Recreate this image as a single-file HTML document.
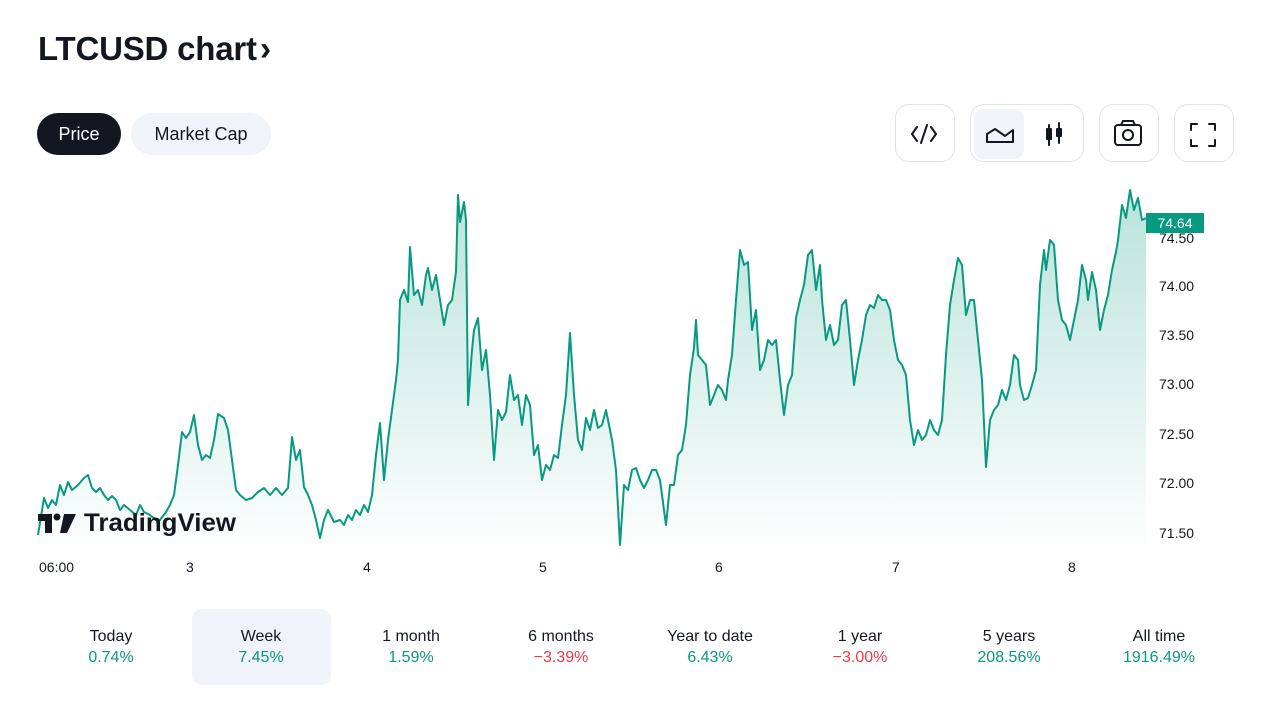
<!DOCTYPE html>
<html><head><meta charset="utf-8"><style>
body{margin:0;width:1280px;height:720px;background:#fff;font-family:"Liberation Sans",sans-serif;color:#131722;position:relative;overflow:hidden}
.a{position:absolute}
h1{position:absolute;left:38px;top:30px;margin:0;font-size:33px;font-weight:bold;letter-spacing:-0.2px}
.pill{position:absolute;top:113px;height:42px;border-radius:21px;font-size:18px;line-height:42px;text-align:center}
.box{position:absolute;top:104px;height:58px;border:1px solid #e0e3eb;border-radius:14px;box-sizing:border-box}
.yl{position:absolute;left:1159px;font-size:14px;color:#131722}
.xl{position:absolute;top:559px;font-size:14px;color:#131722}
.st{position:absolute;top:626px;width:140px;text-align:center;font-size:16px;line-height:21px}
.g{color:#089981}.r{color:#f23645}
</style></head><body>
<h1>LTCUSD chart<span style="font-size:34px;margin-left:3px">›</span></h1>
<div class="pill" style="left:37px;width:84px;background:#131722;color:#fff">Price</div>
<div class="pill" style="left:131px;width:140px;background:#f0f3fa">Market Cap</div>
<div class="box" style="left:895px;width:60px"></div>
<div class="box" style="left:970px;width:114px"></div>
<div class="a" style="left:974px;top:109px;width:50px;height:50px;background:#f0f3fa;border-radius:10px"></div>
<div class="box" style="left:1099px;width:60px"></div>
<div class="box" style="left:1174px;width:60px"></div>
<svg class="a" style="left:0;top:0" width="1280" height="720">
<g fill="none" stroke="#131722" stroke-width="2" stroke-linecap="round" stroke-linejoin="round">
<path d="M917 127l-5 7 5 7M931 127l5 7-5 7M927 125l-6 18"/>
<path d="M987 142v-8l8-5 10 7 8-6v12z"/>
<path d="M1049 125v20M1049 129h-2v10h4v-10zM1059 123v20M1057 129h4v7h-4z"/>
<rect x="1115" y="125" width="26" height="20" rx="3"/><circle cx="1128" cy="135" r="5"/><path d="M1121 125l2-4h10l2 4"/>
<path d="M1191 130v-6h6M1209 124h6v6M1215 140v6h-6M1197 146h-6v-6"/>
</g>
<defs><linearGradient id="gr" x1="0" y1="0" x2="0" y2="1"><stop offset="0" stop-color="#089981" stop-opacity="0.28"/><stop offset="1" stop-color="#089981" stop-opacity="0.01"/></linearGradient></defs>
<polygon fill="url(#gr)" points="38,545 38,535 44,498 48,508 52,500 56,505 60,485 64,495 68,482 72,490 78,485 84,478 88,475 92,488 96,492 100,488 104,495 108,500 112,496 116,500 120,510 124,505 130,510 136,515 140,505 144,512 150,515 156,520 160,520 166,512 170,505 174,495 178,465 182,432 186,438 190,432 194,415 198,445 202,460 206,455 210,458 214,440 218,414 224,418 228,430 232,460 236,490 240,495 246,500 252,498 258,492 264,488 270,495 276,488 282,495 288,488 292,437 296,460 300,450 304,487 308,495 312,505 316,520 320,538 324,520 328,510 334,522 340,520 344,525 348,515 352,520 356,510 360,515 364,505 368,512 372,495 376,455 380,423 384,480 388,440 392,410 396,380 398,360 400,300 404,290 408,302 410,247 414,295 418,290 422,305 426,275 428,268 432,290 436,275 440,300 444,325 448,305 452,300 456,272 458,195 460,222 464,202 466,220 468,405 472,350 474,330 478,318 482,370 486,350 490,395 494,460 498,410 502,420 506,412 510,375 514,400 518,395 522,425 526,395 530,405 534,455 538,445 542,480 546,465 550,470 554,455 558,458 562,425 566,395 570,333 574,395 578,440 582,450 586,418 590,430 594,410 598,428 602,425 606,410 612,440 616,470 620,545 624,485 628,490 632,470 636,468 640,480 644,488 648,480 652,470 656,470 660,480 666,525 670,485 674,485 678,455 682,450 686,425 690,375 694,348 696,320 698,355 702,360 706,365 710,405 714,395 718,385 722,390 726,400 728,380 732,355 736,300 740,250 744,265 748,262 752,330 756,310 760,370 764,360 768,340 772,345 776,340 780,380 784,415 788,385 792,375 796,318 800,300 804,285 808,255 812,250 816,290 820,265 822,300 826,340 830,325 834,345 838,340 842,305 846,300 850,340 854,385 858,360 862,340 866,315 870,305 874,308 878,295 882,300 886,300 890,310 894,340 898,360 902,365 906,375 910,420 914,445 918,430 922,440 926,435 930,420 934,430 938,435 942,420 946,355 950,305 954,280 958,258 962,265 966,315 970,300 974,300 978,340 982,380 986,467 990,420 994,410 998,405 1002,390 1006,400 1010,385 1014,355 1018,360 1020,385 1024,400 1028,398 1032,385 1036,370 1040,285 1044,250 1046,270 1050,240 1054,245 1058,300 1062,320 1066,325 1070,340 1074,320 1078,300 1082,265 1086,280 1088,300 1092,272 1096,290 1100,330 1104,310 1108,295 1112,270 1116,252 1118,240 1122,205 1126,218 1130,190 1134,210 1138,198 1142,220 1146,218 1146,545"/>
<polyline fill="none" stroke="#089981" stroke-width="2" stroke-linejoin="round" points="38,535 44,498 48,508 52,500 56,505 60,485 64,495 68,482 72,490 78,485 84,478 88,475 92,488 96,492 100,488 104,495 108,500 112,496 116,500 120,510 124,505 130,510 136,515 140,505 144,512 150,515 156,520 160,520 166,512 170,505 174,495 178,465 182,432 186,438 190,432 194,415 198,445 202,460 206,455 210,458 214,440 218,414 224,418 228,430 232,460 236,490 240,495 246,500 252,498 258,492 264,488 270,495 276,488 282,495 288,488 292,437 296,460 300,450 304,487 308,495 312,505 316,520 320,538 324,520 328,510 334,522 340,520 344,525 348,515 352,520 356,510 360,515 364,505 368,512 372,495 376,455 380,423 384,480 388,440 392,410 396,380 398,360 400,300 404,290 408,302 410,247 414,295 418,290 422,305 426,275 428,268 432,290 436,275 440,300 444,325 448,305 452,300 456,272 458,195 460,222 464,202 466,220 468,405 472,350 474,330 478,318 482,370 486,350 490,395 494,460 498,410 502,420 506,412 510,375 514,400 518,395 522,425 526,395 530,405 534,455 538,445 542,480 546,465 550,470 554,455 558,458 562,425 566,395 570,333 574,395 578,440 582,450 586,418 590,430 594,410 598,428 602,425 606,410 612,440 616,470 620,545 624,485 628,490 632,470 636,468 640,480 644,488 648,480 652,470 656,470 660,480 666,525 670,485 674,485 678,455 682,450 686,425 690,375 694,348 696,320 698,355 702,360 706,365 710,405 714,395 718,385 722,390 726,400 728,380 732,355 736,300 740,250 744,265 748,262 752,330 756,310 760,370 764,360 768,340 772,345 776,340 780,380 784,415 788,385 792,375 796,318 800,300 804,285 808,255 812,250 816,290 820,265 822,300 826,340 830,325 834,345 838,340 842,305 846,300 850,340 854,385 858,360 862,340 866,315 870,305 874,308 878,295 882,300 886,300 890,310 894,340 898,360 902,365 906,375 910,420 914,445 918,430 922,440 926,435 930,420 934,430 938,435 942,420 946,355 950,305 954,280 958,258 962,265 966,315 970,300 974,300 978,340 982,380 986,467 990,420 994,410 998,405 1002,390 1006,400 1010,385 1014,355 1018,360 1020,385 1024,400 1028,398 1032,385 1036,370 1040,285 1044,250 1046,270 1050,240 1054,245 1058,300 1062,320 1066,325 1070,340 1074,320 1078,300 1082,265 1086,280 1088,300 1092,272 1096,290 1100,330 1104,310 1108,295 1112,270 1116,252 1118,240 1122,205 1126,218 1130,190 1134,210 1138,198 1142,220 1146,218"/>
<g fill="#131722"><path d="M38 514h14v19h-7v-12h-7z"/><circle cx="57" cy="517" r="3.5"/><path d="M64 514h12l-9 19h-7z"/></g>
<text x="84" y="531" font-family="Liberation Sans" font-weight="bold" font-size="25" fill="#131722" textLength="152" lengthAdjust="spacingAndGlyphs">TradingView</text>
</svg>
<div class="a" style="left:1146px;top:213px;width:58px;height:20px;background:#089981;color:#fff;font-size:14px;line-height:20px;text-align:center">74.64</div>
<div class="yl" style="top:230px">74.50</div>
<div class="yl" style="top:278px">74.00</div>
<div class="yl" style="top:327px">73.50</div>
<div class="yl" style="top:376px">73.00</div>
<div class="yl" style="top:426px">72.50</div>
<div class="yl" style="top:475px">72.00</div>
<div class="yl" style="top:525px">71.50</div>
<div class="xl" style="left:39px">06:00</div>
<div class="xl" style="left:186px">3</div>
<div class="xl" style="left:363px">4</div>
<div class="xl" style="left:539px">5</div>
<div class="xl" style="left:715px">6</div>
<div class="xl" style="left:892px">7</div>
<div class="xl" style="left:1068px">8</div>
<div class="a" style="left:192px;top:609px;width:139px;height:76px;background:#f0f3fa;border-radius:10px"></div>
<div class="st" style="left:41px">Today<br><span class="g">0.74%</span></div>
<div class="st" style="left:191px">Week<br><span class="g">7.45%</span></div>
<div class="st" style="left:341px">1 month<br><span class="g">1.59%</span></div>
<div class="st" style="left:491px">6 months<br><span class="r">−3.39%</span></div>
<div class="st" style="left:640px">Year to date<br><span class="g">6.43%</span></div>
<div class="st" style="left:790px">1 year<br><span class="r">−3.00%</span></div>
<div class="st" style="left:939px">5 years<br><span class="g">208.56%</span></div>
<div class="st" style="left:1089px">All time<br><span class="g">1916.49%</span></div>
</body></html>
